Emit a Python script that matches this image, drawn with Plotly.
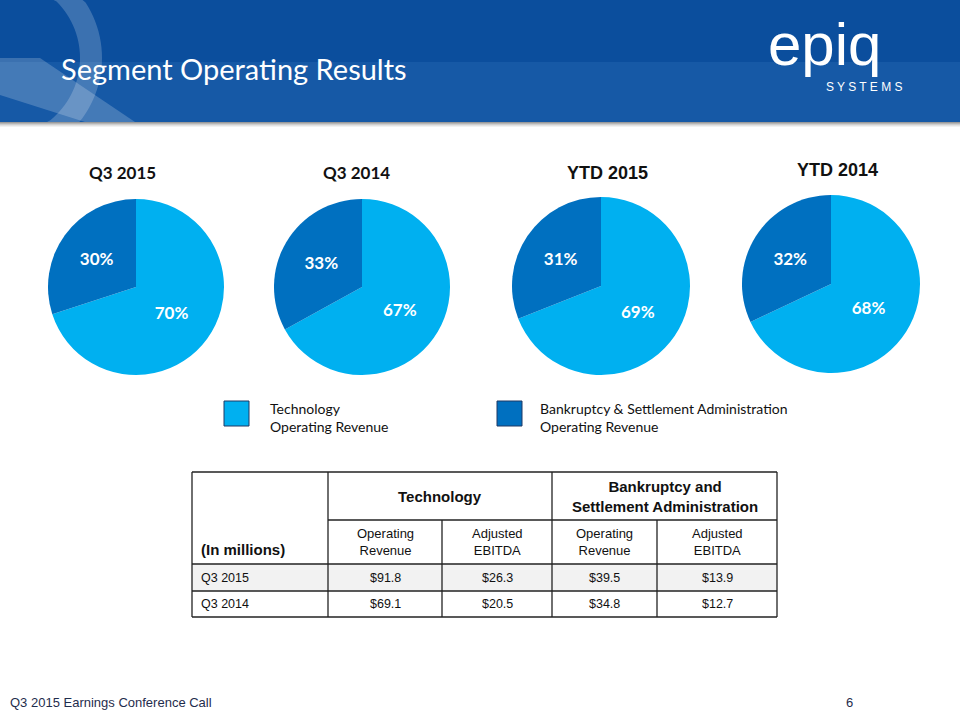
import math
import plotly.graph_objects as go

W, H = 960, 720

# ---------------- data ----------------
pie_titles = ["Q3 2015", "Q3 2014", "YTD 2015", "YTD 2014"]
segments = ["Technology Operating Revenue", "Bankruptcy & Settlement Administration Operating Revenue"]
technology_share = [70, 67, 69, 68]
bankruptcy_share = [30, 33, 31, 32]

row_labels = ["Q3 2015", "Q3 2014"]
tech_operating_revenue = [91.8, 69.1]
tech_adjusted_ebitda = [26.3, 20.5]
bsa_operating_revenue = [39.5, 34.8]
bsa_adjusted_ebitda = [13.9, 12.7]

LIGHT = "#00B0F0"
DARK = "#0070C0"

def X(px):
    return px / W

def Y(py):
    return 1 - py / H

fig = go.Figure()
shapes = []
ann = []

# ---------------- header band ----------------
shapes.append(dict(type="rect", xref="paper", yref="paper", x0=0, x1=1, y0=Y(62), y1=Y(0),
                   fillcolor="#0B4E9D", line=dict(width=0), layer="below"))
shapes.append(dict(type="rect", xref="paper", yref="paper", x0=0, x1=1, y0=Y(122), y1=Y(62),
                   fillcolor="#1659A6", line=dict(width=0), layer="below"))
for i, c in enumerate(["#9a9a9a", "#b5b5b5", "#cfcfcf", "#e3e3e3", "#f2f2f2"]):
    shapes.append(dict(type="rect", xref="paper", yref="paper", x0=0, x1=1,
                       y0=Y(123 + i), y1=Y(122 + i), fillcolor=c, line=dict(width=0), layer="below"))

def ring_path(cx, cy, ro, ri, a0, a1, n=60):
    pts = []
    for k in range(n + 1):
        a = math.radians(a0 + (a1 - a0) * k / n)
        pts.append((cx + ro * math.cos(a), cy + ro * math.sin(a)))
    for k in range(n, -1, -1):
        a = math.radians(a0 + (a1 - a0) * k / n)
        pts.append((cx + ri * math.cos(a), cy + ri * math.sin(a)))
    pts = [(min(max(x, 0), W), min(max(y, 0), 122)) for x, y in pts]
    return "M " + " L ".join(f"{X(x):.5f},{Y(y):.5f}" for x, y in pts) + " Z"

shapes.append(dict(type="path", xref="paper", yref="paper", path=ring_path(0, 58, 102, 80, -90, 90),
                   fillcolor="rgba(255,255,255,0.20)", line=dict(width=0), layer="below"))
tail = [(0, 58), (40, 58), (135, 122), (85, 122), (0, 95)]
shapes.append(dict(type="path", xref="paper", yref="paper",
                   path="M " + " L ".join(f"{X(x):.5f},{Y(y):.5f}" for x, y in tail) + " Z",
                   fillcolor="rgba(255,255,255,0.20)", line=dict(width=0), layer="below"))

ann.append(dict(x=X(59), y=Y(68), xref="paper", yref="paper", xanchor="left", yanchor="middle",
                text="Segment Operating Results", showarrow=False,
                font=dict(family="Lato, Open Sans, sans-serif", size=29, color="white")))
ann.append(dict(x=X(766), y=Y(44), xref="paper", yref="paper", xanchor="left", yanchor="middle",
                text="epiq", showarrow=False,
                font=dict(family="Liberation Sans, Arial", size=60, color="white")))
ann.append(dict(x=X(824), y=Y(87), xref="paper", yref="paper", xanchor="left", yanchor="middle",
                text="S Y S T E M S", showarrow=False,
                font=dict(family="Liberation Sans, Arial", size=12, color="white")))

# ---------------- pies ----------------
pie_geom = [(136, 287, 88), (362, 287, 88), (601, 286, 89), (831, 284, 89)]
title_pos = [(123, 172, "Lato", 17), (356, 172, "Lato", 17),
             (607, 173, "Liberation Sans", 18), (837, 170, "Liberation Sans", 18)]
for i, (cx, cy, r) in enumerate(pie_geom):
    fig.add_trace(go.Pie(
        labels=segments, values=[technology_share[i], bankruptcy_share[i]],
        sort=False, direction="clockwise", rotation=0,
        marker=dict(colors=[LIGHT, DARK], line=dict(width=0)),
        texttemplate="<b>%{value}%</b>",
        textposition="inside", insidetextorientation="horizontal",
        insidetextfont=dict(family="Lato, Open Sans", size=17, color="white"),
        hoverinfo="label+percent", showlegend=False,
        domain=dict(x=[X(cx - r), X(cx + r)], y=[Y(cy + r), Y(cy - r)]),
    ))
    tx, ty, fam, fs = title_pos[i]
    ann.append(dict(x=X(tx), y=Y(ty), xref="paper", yref="paper", xanchor="center", yanchor="middle",
                    text=f"<b>{pie_titles[i]}</b>", showarrow=False,
                    font=dict(family=fam, size=fs, color="#111111")))

# ---------------- legend ----------------
leg = [(224, LIGHT, "Technology<br>Operating Revenue", 268),
       (497, DARK, "Bankruptcy & Settlement Administration<br>Operating Revenue", 538)]
for x0, col, txt, tx in leg:
    shapes.append(dict(type="rect", xref="paper", yref="paper", x0=X(x0), x1=X(x0 + 25),
                       y0=Y(426), y1=Y(401), fillcolor=col, line=dict(color="#1F3864", width=1)))
    ann.append(dict(x=X(tx), y=Y(417), xref="paper", yref="paper", xanchor="left", yanchor="middle",
                    text=txt, showarrow=False, align="left",
                    font=dict(family="Lato, Open Sans", size=14, color="#111111")))

# ---------------- table ----------------
cols = [192, 328, 442, 552, 657, 777]
rows = [472, 520, 564, 591, 617]
TF = "Liberation Sans, Arial"
shapes.append(dict(type="rect", xref="paper", yref="paper", x0=X(cols[0]), x1=X(cols[-1]),
                   y0=Y(rows[3]), y1=Y(rows[2]), fillcolor="#F2F2F2", line=dict(width=0)))
LC = dict(color="#222222", width=1.3)
def hline(y, xa, xb):
    shapes.append(dict(type="line", xref="paper", yref="paper", x0=X(xa), x1=X(xb), y0=Y(y), y1=Y(y), line=LC))
def vline(x, ya, yb):
    shapes.append(dict(type="line", xref="paper", yref="paper", x0=X(x), x1=X(x), y0=Y(ya), y1=Y(yb), line=LC))
hline(rows[0], cols[0], cols[-1])
hline(rows[1], cols[1], cols[-1])
for ry in rows[2:]:
    hline(ry, cols[0], cols[-1])
vline(cols[0], rows[0], rows[-1]); vline(cols[-1], rows[0], rows[-1])
vline(cols[1], rows[0], rows[-1]); vline(cols[3], rows[0], rows[-1])
vline(cols[2], rows[1], rows[-1]); vline(cols[4], rows[1], rows[-1])

def cell(text, x, y, size, bold=False, anchor="center"):
    ann.append(dict(x=X(x), y=Y(y), xref="paper", yref="paper", xanchor=anchor, yanchor="middle",
                    text=(f"<b>{text}</b>" if bold else text), showarrow=False, align=anchor,
                    font=dict(family=TF, size=size, color="#111111")))

cell("Technology", (cols[1] + cols[3]) / 2, 496, 15, True)
cell("Bankruptcy and<br>Settlement Administration", (cols[3] + cols[5]) / 2, 496, 15, True)
cell("(In millions)", 199, 549, 15, True, "left")
subs = ["Operating<br>Revenue", "Adjusted<br>EBITDA", "Operating<br>Revenue", "Adjusted<br>EBITDA"]
for j, s in enumerate(subs):
    cell(s, (cols[j + 1] + cols[j + 2]) / 2, 542, 13)
series = [tech_operating_revenue, tech_adjusted_ebitda, bsa_operating_revenue, bsa_adjusted_ebitda]
for i, lab in enumerate(row_labels):
    yc = (rows[2 + i] + rows[3 + i]) / 2
    cell(lab, 199, yc, 12.5, False, "left")
    for j, s in enumerate(series):
        cell(f"${s[i]:.1f}", (cols[j + 1] + cols[j + 2]) / 2, yc, 12.5)

# ---------------- footer ----------------
ann.append(dict(x=X(8), y=Y(702), xref="paper", yref="paper", xanchor="left", yanchor="middle",
                text="Q3 2015 Earnings Conference Call", showarrow=False,
                font=dict(family=TF, size=13, color="#1F2D4D")))
ann.append(dict(x=X(849), y=Y(702), xref="paper", yref="paper", xanchor="center", yanchor="middle",
                text="6", showarrow=False, font=dict(family=TF, size=13, color="#1F2D4D")))

fig.update_layout(width=W, height=H, margin=dict(l=0, r=0, t=0, b=0),
                  paper_bgcolor="white", plot_bgcolor="white",
                  shapes=shapes, annotations=ann, showlegend=False)
fig.write_html("out.html", config={"displayModeBar": False},
               post_script="document.body.style.margin='0';document.body.style.overflow='hidden';")
